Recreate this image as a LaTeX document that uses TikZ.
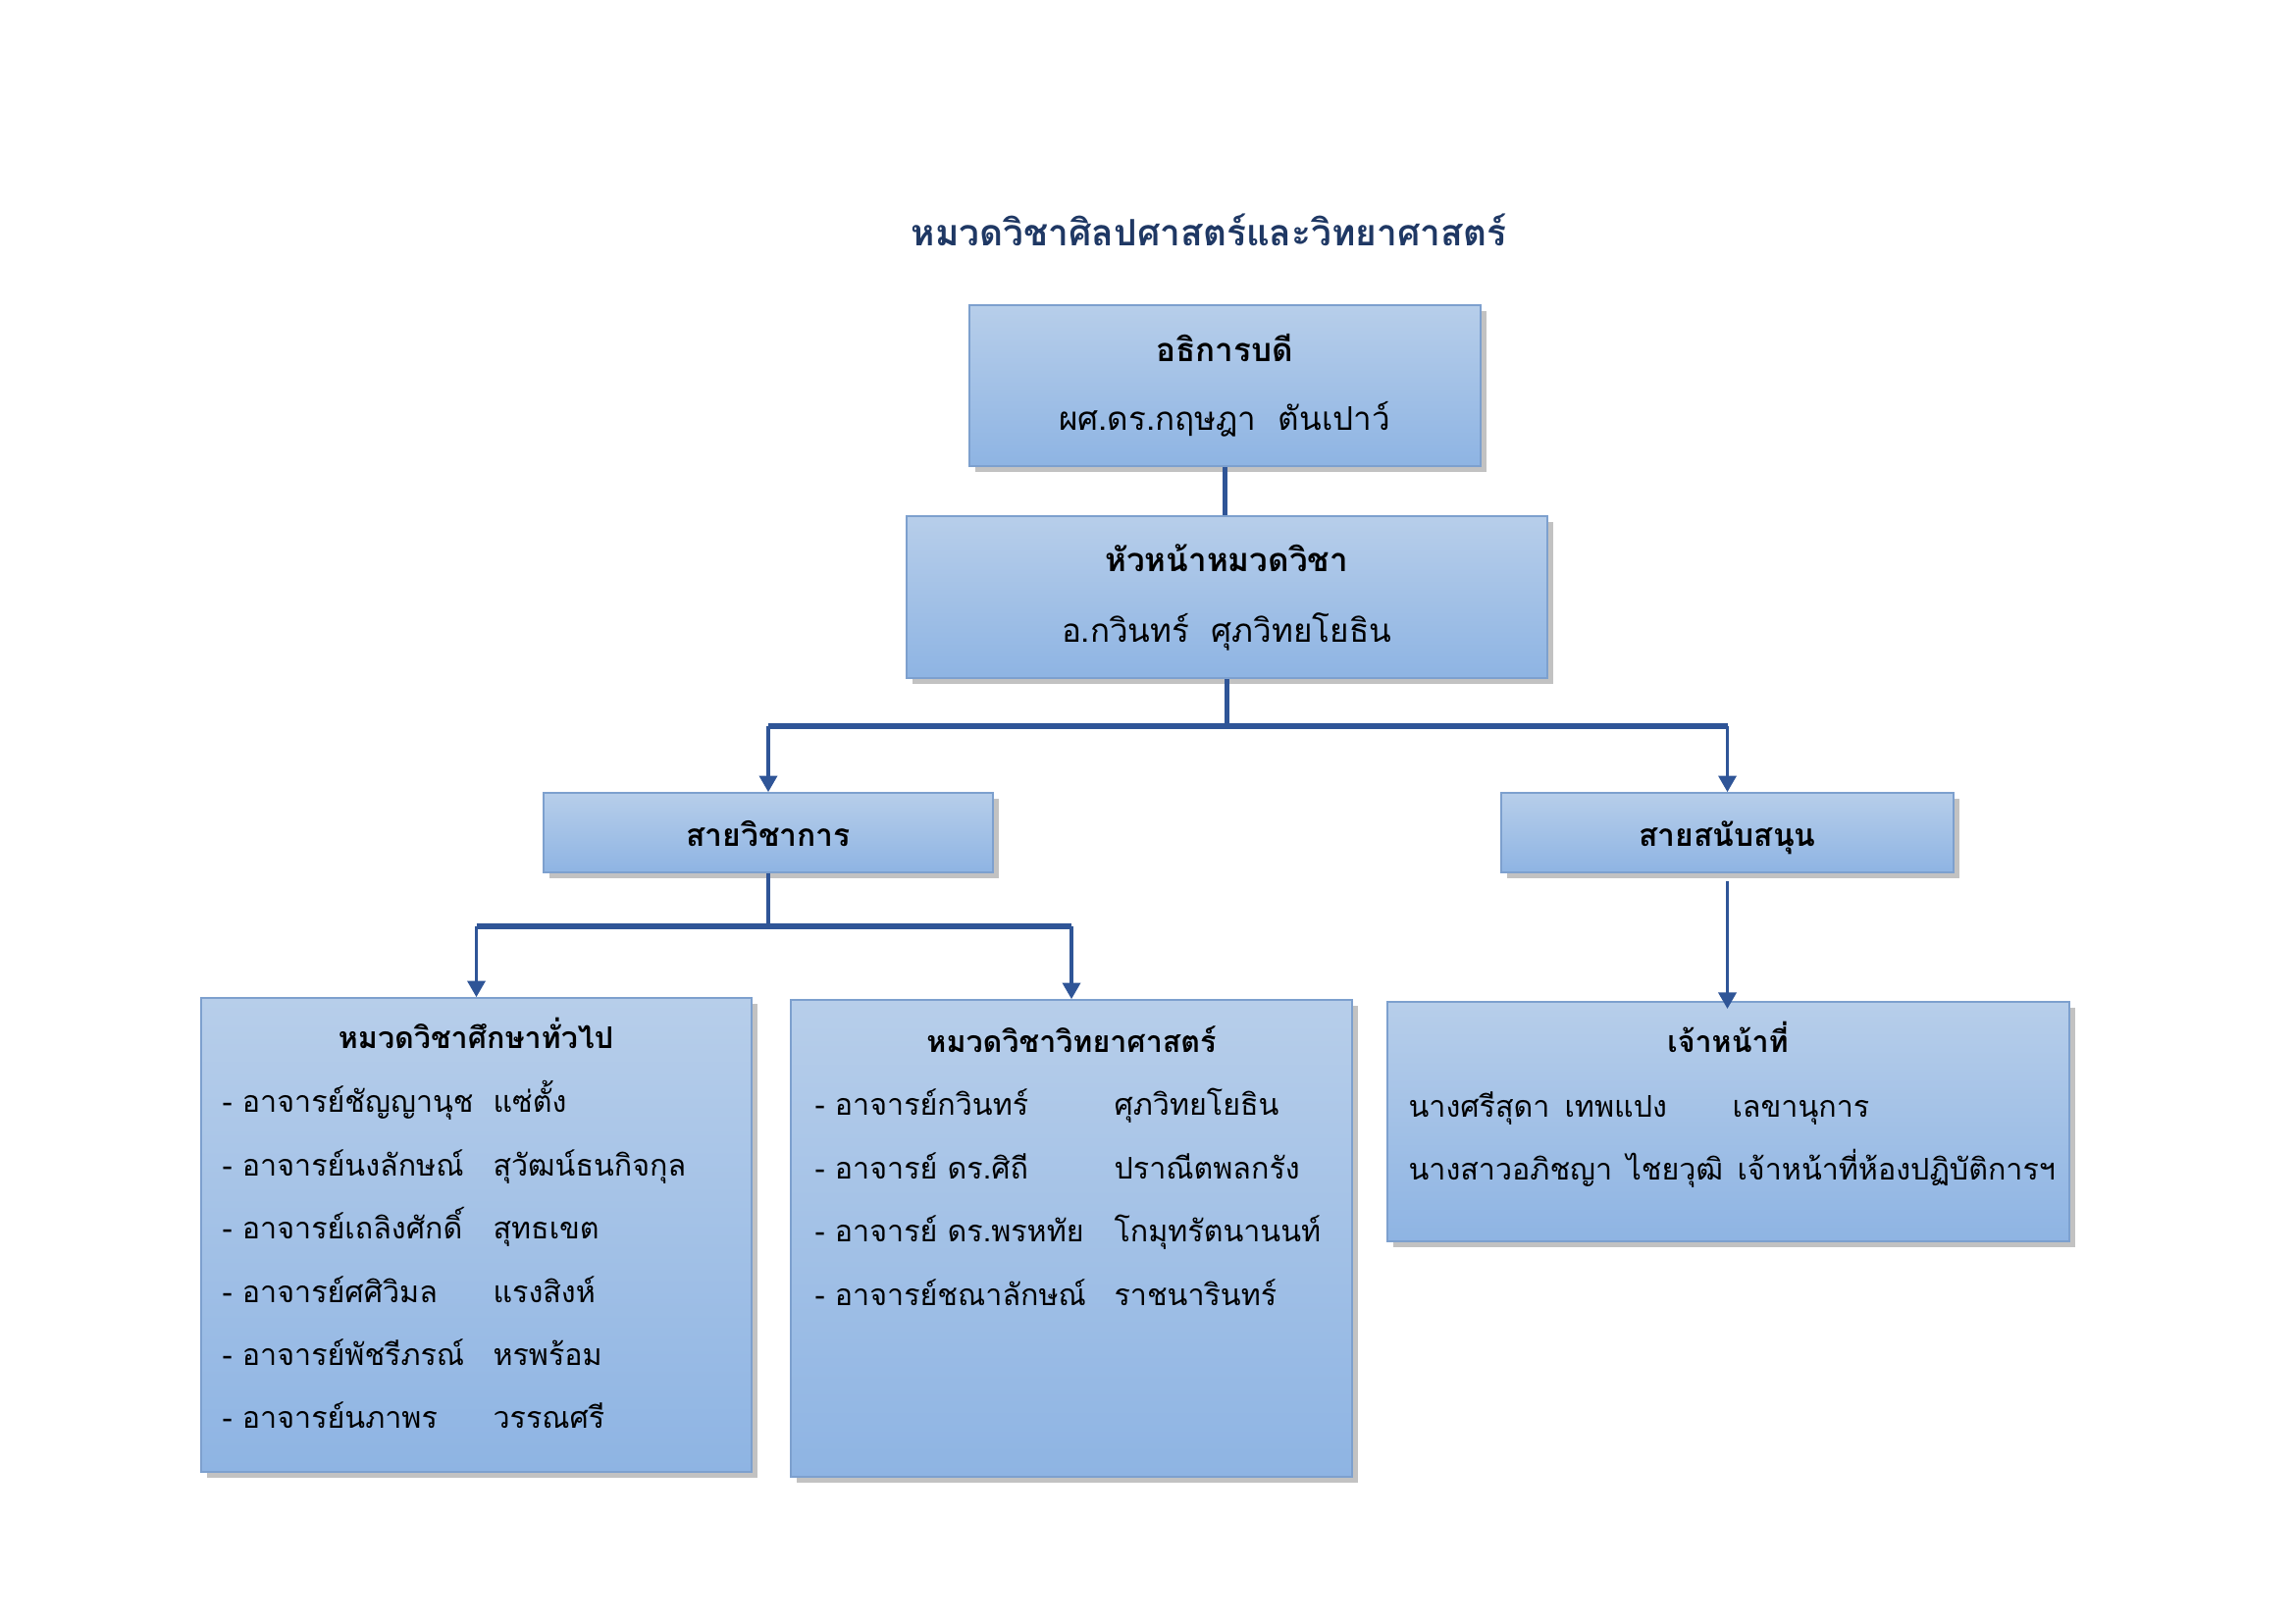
\documentclass[tikz,border=0pt]{standalone}
\usepackage{fontspec}
\setmainfont[Script=Thai]{Loma}
\usetikzlibrary{arrows.meta,shadows,fit}
\definecolor{navy}{RGB}{31,56,100}
\definecolor{linkblue}{RGB}{47,85,151}
\definecolor{boxedge}{RGB}{125,160,206}
\definecolor{boxtop}{RGB}{183,206,234}
\definecolor{boxbot}{RGB}{142,180,227}
\newcommand\bigtxt{\fontsize{12pt}{14pt}\selectfont}
\newcommand\headtxt{\fontsize{11pt}{13pt}\selectfont\bfseries}
\newcommand\rowtxt{\fontsize{11pt}{13pt}\selectfont}
\tikzset{
  panel/.style={draw=boxedge, line width=0.6pt, top color=boxtop, bottom color=boxbot,
    drop shadow={shadow xshift=0.7mm, shadow yshift=-0.8mm, fill=black!60, opacity=0.4},
    inner sep=0pt},
  txt/.style={inner sep=0pt, text height=13pt, text depth=3pt},
  row/.style={txt, anchor=west, font=\rowtxt},
  stem/.style={draw=linkblue, line width=1.6pt},
  bus/.style={draw=linkblue, line width=2pt},
  feed/.style={draw=linkblue, line width=1.3pt, -{Triangle[width=6.5pt,length=6pt]}},
}
\begin{document}
\begin{tikzpicture}[x=0.127mm, y=-0.127mm]
\useasboundingbox (0,0) rectangle (2339,1654);
\node[font=\fontsize{13.4pt}{16pt}\selectfont\bfseries, text=navy] (title) at (1232,234) {หมวดวิชาศิลปศาสตร์และวิทยาศาสตร์};
% upper boxes
\node[panel, fit={(988,311) (1509,475)}] (dean) {};
\node[panel, fit={(924,526) (1577,691)}] (head) {};
\node[panel, fit={(554,808) (1012,889)}] (acad) {};
\node[panel, fit={(1530,808) (1991,889)}] (supp) {};
\node[txt, font=\bigtxt\bfseries] (deanT) at (1248,355) {อธิการบดี};
\node[txt, font=\bigtxt] (deanN) at (1248,425) {ผศ.ดร.กฤษฎา\ \ ตันเปาว์};
\node[txt, font=\bigtxt\bfseries] (headT) at (1250,569) {หัวหน้าหมวดวิชา};
\node[txt, font=\bigtxt] (headN) at (1250,641) {อ.กวินทร์\ \ ศุภวิทยโยธิน};
\node[txt, font=\fontsize{11.5pt}{13pt}\selectfont\bfseries] (acadT) at (acad) {สายวิชาการ};
\node[txt, font=\fontsize{11.5pt}{13pt}\selectfont\bfseries] (suppT) at (supp) {สายสนับสนุน};
% lower boxes
\node[panel, fit={(205,1017) (766,1500)}] (gen) {};
\node[panel, fit={(806,1019) (1378,1505)}] (sci) {};
\node[panel, fit={(1414,1021) (2109,1265)}] (staff) {};
\node[txt, font=\headtxt] (genT) at (485,1055) {หมวดวิชาศึกษาทั่วไป};
\node[txt, font=\headtxt] (sciT) at (1092,1059) {หมวดวิชาวิทยาศาสตร์};
\node[txt, font=\headtxt] (staffT) at (1761,1059) {เจ้าหน้าที่};
\foreach \i/\a/\b in {0/อาจารย์ชัญญานุช/แซ่ตั้ง, 1/อาจารย์นงลักษณ์/สุวัฒน์ธนกิจกุล,
    2/อาจารย์เถลิงศักดิ์/สุทธเขต, 3/อาจารย์ศศิวิมล/แรงสิงห์,
    4/อาจารย์พัชรีภรณ์/หรพร้อม, 5/อาจารย์นภาพร/วรรณศรี}{
  \node[row] (genL\i) at (226,1120+64.4*\i) {- \a};
  \node[row] (genR\i) at (502,1120+64.4*\i) {\b};
}
\foreach \i/\a/\b in {0/อาจารย์กวินทร์/ศุภวิทยโยธิน, 1/อาจารย์ ดร.ศิถี/ปราณีตพลกรัง,
    2/อาจารย์ ดร.พรหทัย/โกมุทรัตนานนท์, 3/อาจารย์ชณาลักษณ์/ราชนารินทร์}{
  \node[row] (sciL\i) at (830,1123+64.4*\i) {- \a};
  \node[row] (sciR\i) at (1135,1123+64.4*\i) {\b};
}
\node[row] (staffA) at (1435,1125) {นางศรีสุดา};
\node[row] (staffB) at (1594,1125) {เทพแปง};
\node[row] (staffC) at (1765,1125) {เลขานุการ};
\node[row] (staffD) at (1435,1189) {นางสาวอภิชญา};
\node[row] (staffE) at (1657,1189) {ไชยวุฒิ};
\node[row] (staffF) at (1770,1189) {เจ้าหน้าที่ห้องปฏิบัติการฯ};
% connectors
\coordinate (fork1) at (head.south |- 0,740);
\coordinate (fork2) at (acad.south |- 0,944);
\draw[stem] (dean.south) -- (dean.south |- head.north);
\draw[stem] (head.south) -- (fork1);
\draw[bus] (fork1 -| acad) -- (fork1 -| supp);
\draw[feed] (fork1 -| acad) -- (acad.north);
\draw[feed] (fork1 -| supp) -- (supp.north);
\draw[stem] (acad.south) -- (fork2);
\draw[bus] (fork2 -| gen) -- (fork2 -| sci);
\draw[feed] (fork2 -| gen) -- (gen.north);
\draw[feed] (fork2 -| sci) -- (sci.north);
\draw[feed] ([yshift=-1mm]supp.south) -- ([yshift=-1mm]supp.south |- staff.north);
\end{tikzpicture}
\end{document}
